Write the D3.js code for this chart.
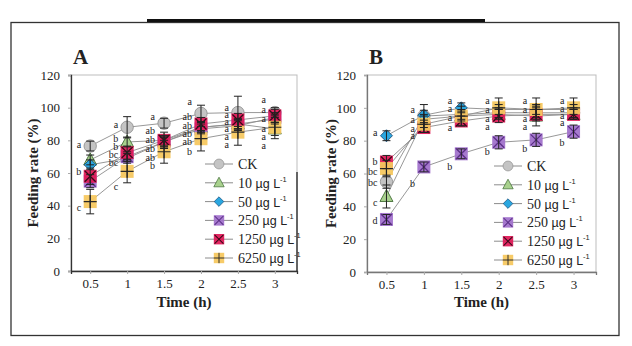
<!DOCTYPE html>
<html lang="en">
  <head>
    <meta charset="utf-8">
    <title>Feeding rate</title>
    <script type="text/javascript" src="https://d3js.org/d3.v7.min.js"></script>
    <style type="text/css">
      body { margin: 0; background: #fff; }
      svg text { font-family: "Liberation Serif", "Times New Roman", serif; fill: #222; }
      .sans { font-family: "Liberation Sans", Arial, sans-serif; }
    </style>
  </head>
  <body>
    <script type="text/javascript">
      var times = [0.5, 1, 1.5, 2, 2.5, 3];
      var seriesNames = ["CK", "10", "50", "250", "1250", "6250"];
      var yTicks = [0, 20, 40, 60, 80, 100, 120];

      // panel A means and errors
      var aCK = [76.5, 88, 90.5, 96.5, 97, 97];
      var a10 = [68, 79, 80, 88, 90, 87];
      var a50 = [65, 69, 79, 88, 90, 93];
      var a250 = [55, 70, 79, 87, 89, 94];
      var a1250 = [58, 72.5, 80, 90, 92.5, 95];
      var a6250 = [42.5, 61, 73, 81, 85, 88];
      var aErrCK = [3, 6.5, 3, 5, 10, 3];
      var aErr10 = [3, 3, 3, 3, 3, 4];
      var aErr50 = [3, 3, 3, 3, 3, 3];
      var aErr250 = [4, 3, 3, 3, 3, 3];
      var aErr1250 = [5, 4, 5, 4, 4, 4];
      var aErr6250 = [7.5, 7, 7, 7.5, 8, 7];
      var aLetters = [
        [["a", 77], ["b", 60.5], ["c", 38.5]],
        [["a", 89.5], ["b", 81], ["b", 76], ["bc", 71], ["bc", 66], ["c", 51.5]],
        [["a", 94], ["ab", 86], ["ab", 80], ["ab", 75], ["ab", 69], ["b", 64]],
        [["a", 103.5], ["ab", 94], ["ab", 88.5], ["ab", 84], ["ab", 79], ["b", 73]],
        [["a", 100], ["a", 95.5], ["a", 91.5], ["a", 87], ["a", 82], ["a", 77]],
        [["a", 104.5], ["a", 98.5], ["a", 93], ["a", 87], ["a", 82], ["a", 76.5]]
      ];

      // panel B means and errors
      var bCK = [55, 95, 96, 97, 97, 97];
      var b10 = [46, 93, 95, 96, 95, 96];
      var b50 = [83, 95.5, 100, 99, 99, 99];
      var b250 = [32, 64, 72, 79, 80.5, 85.5];
      var b1250 = [67, 88, 92, 95, 96, 96];
      var b6250 = [63, 90, 95, 100, 99, 100];
      var bErrCK = [4, 7, 3, 3, 3, 3];
      var bErr10 = [7, 3, 3, 3, 6, 3];
      var bErr50 = [3, 3, 3, 3, 3, 3];
      var bErr250 = [3, 3, 3, 4, 4, 4];
      var bErr1250 = [4, 3, 3, 4, 3, 3];
      var bErr6250 = [5, 5, 6, 6, 7, 6];
      var bLetters = [
        [["a", 84.5], ["b", 67], ["bc", 61], ["bc", 54], ["c", 42], ["d", 31]],
        [["a", 98.5], ["a", 92.5], ["a", 87], ["a", 83], ["b", 53.5]],
        [["a", 104], ["a", 99], ["a", 94], ["a", 88], ["b", 64]],
        [["a", 104], ["a", 98.5], ["a", 93.5], ["a", 88.5], ["b", 73]],
        [["a", 104], ["a", 98.5], ["a", 93.5], ["a", 88.5], ["b", 75]],
        [["a", 104], ["a", 99.5], ["a", 95], ["a", 90.5], ["b", 78.5]]
      ];

      var styles = {
        "CK":   {shape: "circle", fill: "#c4c4c4", stroke: "#8a8a8a"},
        "10":   {shape: "triangle", fill: "#a9d18e", stroke: "#3f6b33"},
        "50":   {shape: "diamond", fill: "#2aa7e0", stroke: "#1d4f7a"},
        "250":  {shape: "x", fill: "#a273cc", stroke: "#5b2f86"},
        "1250": {shape: "x", fill: "#e01b5a", stroke: "#3a0a18"},
        "6250": {shape: "plus", fill: "#f7c860", stroke: "#2a2a2a"}
      };

      var svg = d3.select("body").append("svg")
        .attr("width", 632)
        .attr("height", 346);

      // outer frame and the bar above it
      svg.append("rect")
        .attr("x", 11).attr("y", 22.5)
        .attr("width", 608).attr("height", 313)
        .attr("fill", "none").attr("stroke", "#333").attr("stroke-width", 1.3);
      svg.append("rect")
        .attr("x", 147).attr("y", 19)
        .attr("width", 338).attr("height", 3)
        .attr("fill", "#111");

      function drawMarker(g, name, cx, cy, k) {
        var s = styles[name];
        k = k || 1;
        var m = g.append("g").attr("transform", "translate(" + cx + "," + cy + ") scale(" + k + ")");
        if (s.shape == "circle") {
          m.append("circle").attr("r", 6.2)
            .attr("fill", s.fill).attr("stroke", s.stroke).attr("stroke-width", 0.8);
        } else if (s.shape == "triangle") {
          m.append("path").attr("d", "M0,-7L6.5,5L-6.5,5Z")
            .attr("fill", s.fill).attr("stroke", s.stroke).attr("stroke-width", 0.9);
        } else if (s.shape == "diamond") {
          m.append("path").attr("d", "M0,-6L6,0L0,6L-6,0Z")
            .attr("fill", s.fill).attr("stroke", s.stroke).attr("stroke-width", 0.9);
        } else {
          m.append("rect").attr("x", -6.5).attr("y", -6.5)
            .attr("width", 13).attr("height", 13)
            .attr("fill", s.fill).attr("opacity", 0.95);
          if (s.shape == "x") {
            m.append("path").attr("d", "M-5.5,-5.5L5.5,5.5M5.5,-5.5L-5.5,5.5")
              .attr("stroke", s.stroke).attr("stroke-width", 1.3);
          } else {
            m.append("path").attr("d", "M-6.5,0L6.5,0M0,-6.5L0,6.5")
              .attr("stroke", s.stroke).attr("stroke-width", 1.2);
          }
        }
      }

      function legendLabel(t, name) {
        if (name == "CK") { t.text("CK"); return; }
        t.append("tspan").text(name + " ");
        t.append("tspan").attr("class", "sans").attr("font-size", 12.5).text("\u00b5g L");
        t.append("tspan").attr("class", "sans").attr("font-size", 7.5).attr("dy", -6).text("-1");
      }

      function panel(opt) {
        var x = d3.scaleLinear().domain([0.24, 3.3]).range([opt.left, opt.right]);
        var y = d3.scaleLinear().domain([0, 120]).range([opt.bottom, opt.top]);
        var g = svg.append("g");

        // plot frame
        g.append("rect")
          .attr("x", opt.left).attr("y", opt.top)
          .attr("width", opt.right - opt.left).attr("height", opt.bottom - opt.top)
          .attr("fill", "none").attr("stroke", "#bdbdbd").attr("stroke-width", 1);

        var xAxis = g.append("g")
          .attr("transform", "translate(0," + opt.bottom + ")")
          .call(d3.axisBottom(x).tickValues(times).tickSize(3).tickPadding(5)
            .tickFormat(function(d) { return d; }));
        xAxis.select(".domain").attr("stroke", opt.axisColor).attr("stroke-width", 1.3);
        xAxis.selectAll(".tick line").attr("stroke", "#aaa");
        xAxis.selectAll("text").attr("font-size", 13).attr("fill", "#222")
          .attr("font-family", "Liberation Serif, serif");

        var yAxis = g.append("g")
          .attr("transform", "translate(" + opt.left + ",0)")
          .call(d3.axisLeft(y).tickValues(yTicks).tickSize(3).tickPadding(8));
        yAxis.select(".domain").attr("stroke", opt.axisColor).attr("stroke-width", 1.3);
        yAxis.selectAll(".tick line").attr("stroke", "#aaa");
        yAxis.selectAll("text").attr("font-size", 13).attr("fill", "#222")
          .attr("font-family", "Liberation Serif, serif");

        // panel letter and axis titles
        g.append("text").attr("x", opt.left + 2).attr("y", 64)
          .attr("font-size", 21).attr("font-weight", "bold").text(opt.label);
        g.append("text")
          .attr("transform", "translate(" + opt.ylabX + "," + ((opt.top + opt.bottom) / 2) + ") rotate(-90)")
          .attr("text-anchor", "middle").attr("font-size", 15).attr("font-weight", "bold")
          .text("Feeding rate (%)");
        g.append("text")
          .attr("x", (opt.left + opt.right) / 2).attr("y", 307)
          .attr("text-anchor", "middle").attr("font-size", 15).attr("font-weight", "bold")
          .text("Time (h)");

        // connecting lines
        var line = d3.line().x(function(d, i) { return x(times[i]); }).y(function(d) { return y(d); });
        opt.values.forEach(function(vals) {
          g.append("path").attr("d", line(vals))
            .attr("fill", "none").attr("stroke", "#8c8c8c").attr("stroke-width", 0.9);
        });

        // markers then error bars
        opt.values.forEach(function(vals, s) {
          vals.forEach(function(v, i) {
            drawMarker(g, seriesNames[s], x(times[i]), y(v), 1);
          });
        });
        opt.values.forEach(function(vals, s) {
          vals.forEach(function(v, i) {
            var e = opt.errors[s][i], cx = x(times[i]);
            g.append("path")
              .attr("d", "M" + cx + "," + y(v - e) + "L" + cx + "," + y(v + e) +
                "M" + (cx - 4) + "," + y(v + e) + "L" + (cx + 4) + "," + y(v + e) +
                "M" + (cx - 4) + "," + y(v - e) + "L" + (cx + 4) + "," + y(v - e))
              .attr("stroke", "#222").attr("stroke-width", 1).attr("fill", "none");
          });
        });

        // significance letters
        opt.letters.forEach(function(list, i) {
          list.forEach(function(l) {
            g.append("text")
              .attr("x", x(times[i]) - 9).attr("y", y(l[1]) + 3)
              .attr("text-anchor", "end").attr("font-size", 10).attr("fill", "#333")
              .text(l[0]);
          });
        });

        // legend
        seriesNames.forEach(function(name, i) {
          var ly = opt.legTop + i * 18.8;
          g.append("line")
            .attr("x1", opt.legX - 14).attr("x2", opt.legX + 14)
            .attr("y1", ly).attr("y2", ly)
            .attr("stroke", "#8c8c8c").attr("stroke-width", 1);
          drawMarker(g, name, opt.legX, ly, 0.8);
          var t = g.append("text").attr("x", opt.legX + 19).attr("y", ly + 5)
            .attr("font-size", 14);
          legendLabel(t, name);
        });

        if (opt.darkEdge) {
          g.append("line")
            .attr("x1", opt.right).attr("x2", opt.right)
            .attr("y1", opt.darkEdge).attr("y2", opt.bottom)
            .attr("stroke", "#222").attr("stroke-width", 1.3);
        }
      }

      panel({
        label: "A", left: 71, right: 297, top: 75, bottom: 271, axisColor: "#333", ylabX: 38,
        values: [aCK, a10, a50, a250, a1250, a6250],
        errors: [aErrCK, aErr10, aErr50, aErr250, aErr1250, aErr6250],
        letters: aLetters, legX: 219, legTop: 164, darkEdge: 172
      });
      panel({
        label: "B", left: 367, right: 596, top: 75, bottom: 272, axisColor: "#777", ylabX: 336,
        values: [bCK, b10, b50, b250, b1250, b6250],
        errors: [bErrCK, bErr10, bErr50, bErr250, bErr1250, bErr6250],
        letters: bLetters, legX: 508, legTop: 166, darkEdge: null
      });
    </script>
  </body>
</html>
